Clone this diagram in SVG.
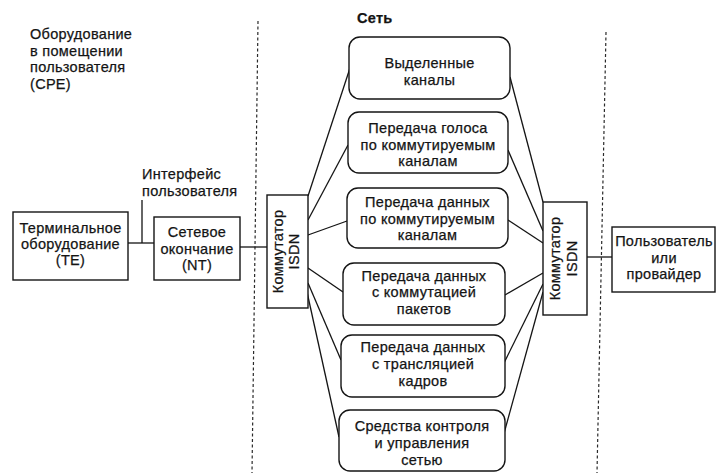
<svg xmlns="http://www.w3.org/2000/svg" width="719" height="473" viewBox="0 0 719 473">
  <style>
    .t { font-family: "Liberation Sans", Arial, sans-serif; font-size: 14.5px; fill: #141414; stroke: #141414; stroke-width: 0.25; letter-spacing: 0.3px; }
    .c { text-anchor: middle; }
    .bold { font-weight: bold; }
    .box { fill: #fff; stroke: #141414; stroke-width: 1.4; }
    .ln { fill: none; stroke: #141414; stroke-width: 1.3; }
    .dash { fill: none; stroke: #2a2a2a; stroke-width: 1.2; stroke-dasharray: 3 2.5; }
  </style>
  <rect width="719" height="473" fill="#fff"/>

  <!-- domain boundaries -->
  <g id="boundaries">
    <line class="dash" x1="258" y1="21" x2="252" y2="473"/>
    <line class="dash" x1="606" y1="32" x2="597" y2="473"/>
  </g>

  <!-- free labels -->
  <g id="labels">
    <text class="t" x="30" y="39">Оборудование</text>
    <text class="t" x="30" y="55.5">в помещении</text>
    <text class="t" x="30" y="72">пользователя</text>
    <text class="t" x="30" y="89">(CPE)</text>
    <text class="t" x="142" y="179">Интерфейс</text>
    <text class="t" x="142" y="196">пользователя</text>
    <text class="t bold" x="357" y="23">Сеть</text>
  </g>

  <!-- connectors -->
  <g id="connectors">
    <line class="ln" x1="142" y1="200" x2="142" y2="243"/>
    <line class="ln" x1="128" y1="243" x2="154" y2="243"/>
    <line class="ln" x1="240" y1="247" x2="267" y2="247"/>
    <line class="ln" x1="587" y1="257" x2="612" y2="257"/>
    <!-- fan from left switch -->
    <line class="ln" x1="308" y1="196" x2="350" y2="68"/>
    <line class="ln" x1="308" y1="220" x2="348" y2="145"/>
    <line class="ln" x1="308" y1="235" x2="347" y2="221"/>
    <line class="ln" x1="308" y1="268" x2="343" y2="292"/>
    <line class="ln" x1="308" y1="283" x2="341" y2="360"/>
    <line class="ln" x1="307" y1="292" x2="339" y2="437"/>
    <!-- fan into right switch -->
    <line class="ln" x1="510" y1="77" x2="543" y2="202"/>
    <line class="ln" x1="508" y1="150" x2="543" y2="231"/>
    <line class="ln" x1="508" y1="220" x2="543" y2="243"/>
    <line class="ln" x1="505" y1="295" x2="543" y2="273"/>
    <line class="ln" x1="504" y1="363" x2="543" y2="284"/>
    <line class="ln" x1="503" y1="437" x2="543" y2="292"/>
  </g>

  <g id="te">
    <rect class="box" x="13" y="212" width="115" height="68"/>
    <text class="t c" x="70.5" y="233">Терминальное</text>
    <text class="t c" x="70.5" y="249">оборудование</text>
    <text class="t c" x="70.5" y="265">(TE)</text>
  </g>

  <g id="nt">
    <rect class="box" x="154" y="217" width="86" height="63"/>
    <text class="t c" x="197" y="237">Сетевое</text>
    <text class="t c" x="197" y="254">окончание</text>
    <text class="t c" x="197" y="270">(NT)</text>
  </g>

  <g id="switch-left">
    <rect class="box" x="267" y="195" width="41" height="113"/>
    <text class="t c" transform="translate(283,251.5) rotate(-90)">Коммутатор</text>
    <text class="t c" transform="translate(298.5,251.5) rotate(-90)">ISDN</text>
  </g>

  <g id="switch-right">
    <rect class="box" x="543" y="202" width="44" height="113"/>
    <text class="t c" transform="translate(560,258.5) rotate(-90)">Коммутатор</text>
    <text class="t c" transform="translate(577,258.5) rotate(-90)">ISDN</text>
  </g>

  <g id="user">
    <rect class="box" x="612" y="227" width="103" height="65"/>
    <text class="t c" x="664" y="246">Пользователь</text>
    <text class="t c" x="664" y="263">или</text>
    <text class="t c" x="664" y="279">провайдер</text>
  </g>

  <g id="svc-leased">
    <rect class="box" x="349" y="37" width="161" height="62" rx="11"/>
    <text class="t c" x="429.5" y="68">Выделенные</text>
    <text class="t c" x="429.5" y="85">каналы</text>
  </g>

  <g id="svc-voice">
    <rect class="box" x="348" y="112" width="160" height="61" rx="11"/>
    <text class="t c" x="428" y="133">Передача голоса</text>
    <text class="t c" x="428" y="150">по коммутируемым</text>
    <text class="t c" x="428" y="166">каналам</text>
  </g>

  <g id="svc-circuit-data">
    <rect class="box" x="347" y="188" width="161" height="60" rx="11"/>
    <text class="t c" x="427.5" y="207">Передача данных</text>
    <text class="t c" x="427.5" y="224">по коммутируемым</text>
    <text class="t c" x="427.5" y="240">каналам</text>
  </g>

  <g id="svc-packet">
    <rect class="box" x="343" y="263" width="162" height="62" rx="11"/>
    <text class="t c" x="424" y="281">Передача данных</text>
    <text class="t c" x="424" y="297">с коммутацией</text>
    <text class="t c" x="424" y="314">пакетов</text>
  </g>

  <g id="svc-frame-relay">
    <rect class="box" x="341" y="335" width="164" height="62" rx="11"/>
    <text class="t c" x="423" y="352">Передача данных</text>
    <text class="t c" x="423" y="369">с трансляцией</text>
    <text class="t c" x="423" y="386">кадров</text>
  </g>

  <g id="svc-management">
    <rect class="box" x="339" y="410" width="166" height="61" rx="11"/>
    <text class="t c" x="422" y="431">Средства контроля</text>
    <text class="t c" x="422" y="448">и управления</text>
    <text class="t c" x="422" y="465">сетью</text>
  </g>
</svg>
